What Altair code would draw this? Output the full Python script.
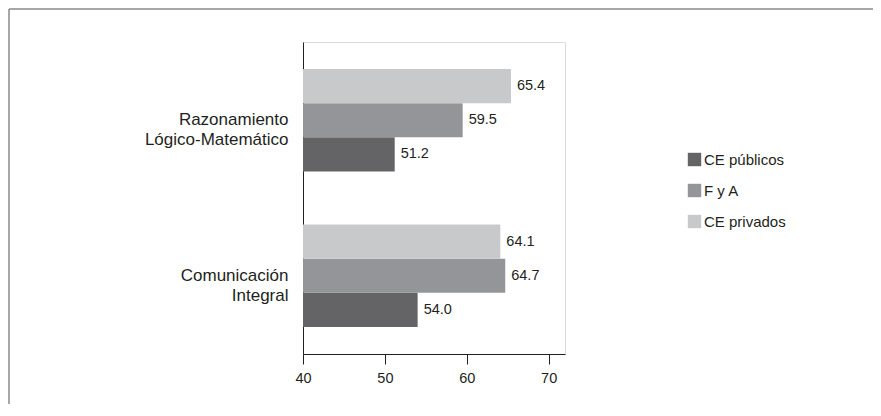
import altair as alt
import pandas as pd

categories = ["Razonamiento|Lógico-Matemático", "Comunicación|Integral"]
groups = ["CE públicos", "F y A", "CE privados"]
values = {
    "CE públicos": [51.2, 54.0],
    "F y A": [59.5, 64.7],
    "CE privados": [65.4, 64.1],
}
x_ticks = [40, 50, 60, 70]
colors = ["#646466", "#939598", "#c8c9cb"]

rows = []
for g in groups:
    for c, v in zip(categories, values[g]):
        rows.append({"cat": c, "group": g, "value": v})
df = pd.DataFrame(rows)

FONT = "Liberation Sans"
W, H = 262, 312
PL, PT = 295, 34
PR = 881 - 16 - PL - W
PB = 416 - 20 - PT - H

y_enc = alt.Y("cat:N", sort=categories, title=None,
              scale=alt.Scale(paddingInner=0.342, paddingOuter=0.174),
              axis=alt.Axis(labelExpr="split(datum.label, '|')", ticks=False,
                            labelFontSize=17, labelFont=FONT, labelColor="#231f20",
                            labelPadding=15, labelLineHeight=20, domainColor="#231f20",
                            labelAlign="right", labelBaseline="middle"))
yoff = alt.YOffset("group:N", sort=["CE privados", "F y A", "CE públicos"],
                   scale=alt.Scale(paddingInner=0, paddingOuter=0))
x_scale = alt.Scale(domain=[40, 72], zero=False, nice=False)

base = alt.Chart(df)
bars = base.mark_bar().encode(
    x=alt.X("value:Q", scale=x_scale, title=None,
            axis=alt.Axis(values=x_ticks, grid=False, tickSize=10, labelFontSize=14.5,
                          labelFont=FONT, labelColor="#231f20", labelPadding=7,
                          labelFlush=False,
                          domainColor="#231f20", tickColor="#231f20")),
    x2=alt.datum(40),
    y=y_enc,
    yOffset=yoff,
    color=alt.Color("group:N", scale=alt.Scale(domain=groups, range=colors),
                    legend=alt.Legend(title=None, orient="none", legendX=384, legendY=110,
                                      symbolType="square", symbolSize=180,
                                      symbolStrokeWidth=0, labelFontSize=15,
                                      labelFont=FONT, labelColor="#231f20",
                                      rowPadding=15, labelOffset=2, padding=0)),
)
labels = base.mark_text(align="left", baseline="middle", dx=6, fontSize=14.5,
                        font=FONT, color="#231f20").encode(
    x=alt.X("value:Q", scale=x_scale),
    y=y_enc,
    yOffset=yoff,
    text=alt.Text("value:Q", format=".1f"),
)

one = alt.Chart(pd.DataFrame({"a": [0]}))
frame_left = one.mark_rule(color="#8a8a8a", strokeWidth=1.5).encode(
    x=alt.value(-PL + 1), y=alt.value(-PT + 1), y2=alt.value(H + PB + 10))
frame_top = one.mark_rule(color="#8a8a8a", strokeWidth=1.5).encode(
    x=alt.value(-PL + 1), x2=alt.value(W + PR + 10), y=alt.value(-PT + 1))

chart = alt.layer(frame_left, frame_top, bars, labels).properties(
    width=W, height=H,
    autosize=alt.AutoSizeParams(type="none"),
    padding={"left": PL, "top": PT, "right": PR, "bottom": PB},
).configure_view(stroke="#808080", strokeWidth=1).configure(background="white")

chart.save("out.html", embed_options={"renderer": "svg", "actions": False})
